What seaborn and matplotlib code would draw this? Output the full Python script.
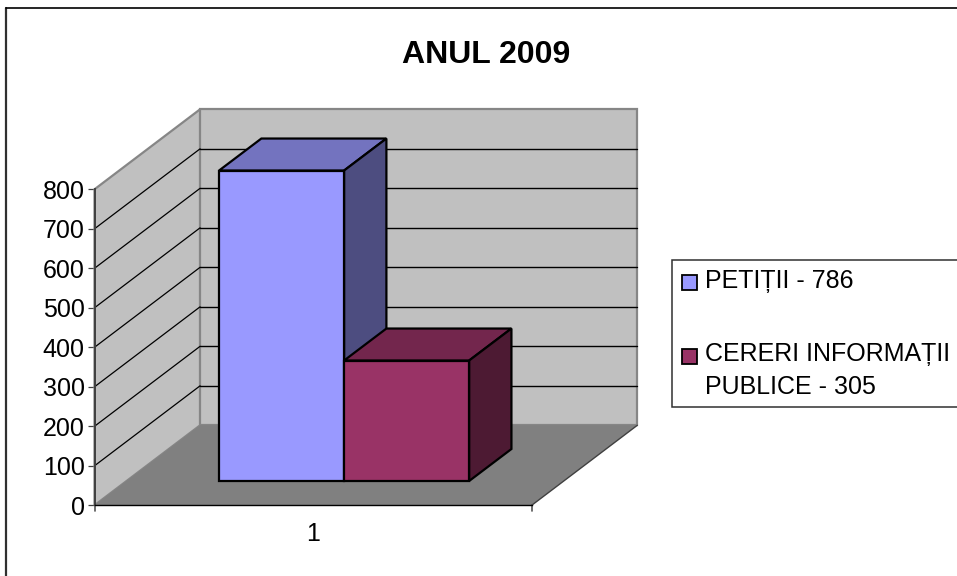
import matplotlib
matplotlib.use("Agg")
import matplotlib.pyplot as plt
from matplotlib.patches import Polygon, Rectangle
import pandas as pd
import seaborn as sns

categories = ["1"]
series_names = ["PETIȚII - 786", "CERERI INFORMAȚII\nPUBLICE - 305"]
series_values = [786, 305]
front_colors = ["#9999FF", "#993366"]
top_colors = ["#7373BF", "#73264D"]
side_colors = ["#4D4D80", "#4D1A33"]
y_ticks = list(range(0, 801, 100))
title_text = "ANUL 2009"

W, H = 957, 576
sns.set_theme(style="white")
plt.rcParams["font.family"] = ["Liberation Sans", "DejaVu Sans"]
fig = plt.figure(figsize=(W / 100, H / 100), dpi=100, facecolor="white")

# axes = front plane of the 3D box, in reference pixels
L, R, TOP, BOT = 94.5, 531.7, 189.3, 505.3
ax = fig.add_axes([L / W, 1 - BOT / H, (R - L) / W, (BOT - TOP) / H])
ax.patch.set_alpha(0)

df = pd.DataFrame({"cat": categories * 2, "series": series_names, "value": series_values})
sns.barplot(data=df, x="cat", y="value", hue="series", hue_order=series_names,
            palette=front_colors, width=0.572, dodge=True, saturation=1,
            legend=False, ax=ax, edgecolor="black", linewidth=1.6, zorder=5)
ax.set_xlim(-0.5, 0.5)
ax.set_ylim(0, 800)

px_x = R - L              # pixels per x unit
px_y = (BOT - TOP) / 800  # pixels per y unit
wall_dx, wall_dy = 105.6 / px_x, 80 / px_y
bar_dx, bar_dy = 42.3 / px_x, 32 / px_y
shift_x, shift_y = 31.0 / px_x, 24.3 / px_y
x0, x1 = -0.5, 0.5

# walls and floor
grey = "#868686"
ax.add_patch(Polygon([(x0, 0), (x0 + wall_dx, wall_dy), (x0 + wall_dx, 800 + wall_dy), (x0, 800)],
                     closed=True, fc="#C0C0C0", ec=grey, lw=1.6, clip_on=False, zorder=1))
ax.add_patch(Polygon([(x0 + wall_dx, wall_dy), (x1 + wall_dx, wall_dy),
                      (x1 + wall_dx, 800 + wall_dy), (x0 + wall_dx, 800 + wall_dy)],
                     closed=True, fc="#C0C0C0", ec=grey, lw=1.6, clip_on=False, zorder=1))
ax.add_patch(Polygon([(x0, 0), (x1, 0), (x1 + wall_dx, wall_dy), (x0 + wall_dx, wall_dy)],
                     closed=True, fc="#808080", ec="none", clip_on=False, zorder=2))
ax.plot([x1, x1 + wall_dx], [0, wall_dy], color="#404040", lw=1, clip_on=False, zorder=2)

# gridlines on side and back walls
for v in y_ticks[1:-1]:
    ax.plot([x0, x0 + wall_dx], [v, v + wall_dy], color="black", lw=0.9, clip_on=False, zorder=3)
    ax.plot([x0 + wall_dx, x1 + wall_dx], [v + wall_dy, v + wall_dy],
            color="black", lw=1.0, clip_on=False, zorder=3)

# 3D bars: move the seaborn bars onto the floor and add their top and side faces
for bar, top_c, side_c in zip(ax.patches[:2], top_colors, side_colors):
    bx, bw, bh = bar.get_x() + shift_x, bar.get_width(), bar.get_height()
    by = shift_y
    bar.set_x(bx)
    bar.set_y(by)
    bar.set_clip_on(False)
    bar.set_zorder(6)
    bar.set_joinstyle("miter")
    ax.add_patch(Polygon([(bx, by + bh), (bx + bw, by + bh), (bx + bw + bar_dx, by + bh + bar_dy),
                          (bx + bar_dx, by + bh + bar_dy)], closed=True, fc=top_c, ec="black",
                         lw=1.6, clip_on=False, zorder=4))
    ax.add_patch(Polygon([(bx + bw, by), (bx + bw + bar_dx, by + bar_dy),
                          (bx + bw + bar_dx, by + bh + bar_dy), (bx + bw, by + bh)], closed=True,
                         fc=side_c, ec="black", lw=1.6, clip_on=False, zorder=4))

# axes
ax.set_xlabel("")
ax.set_ylabel("")
ax.set_yticks(y_ticks)
ax.set_xticks([0])
ax.set_xticklabels(categories)
for s in ["top", "right"]:
    ax.spines[s].set_visible(False)
ax.spines["left"].set_color("#404040")
ax.spines["left"].set_linewidth(1.4)
ax.spines["bottom"].set_color("black")
ax.spines["bottom"].set_linewidth(1.0)
for s in ax.spines.values():
    s.set_zorder(7)
ax.tick_params(axis="y", length=5, width=0.9, color="#404040", left=True, pad=2, labelsize=18, labelcolor="black")
ax.tick_params(axis="x", length=0, pad=12, labelsize=18, labelcolor="black")
for xe in (x0, x1):
    ax.plot([xe, xe], [0, -6 / px_y], color="#555555", lw=1.2, clip_on=False, zorder=7)

# outer frame: left and top edges of the chart area
fig.add_artist(plt.Line2D([6 / W, 6 / W], [1 - 7.5 / H, 0], color="#303030", lw=1.6))
fig.add_artist(plt.Line2D([5.5 / W, 1], [1 - 7.5 / H, 1 - 7.5 / H], color="black", lw=1.2))

fig.text(486 / W, 1 - 55 / H, title_text, ha="center", va="center", fontsize=23, fontweight="bold", color="black")

# legend
fig.add_artist(Rectangle((671.7 / W, 1 - 407 / H), 290 / W, 147.3 / H, transform=fig.transFigure,
                         fc="white", ec="#303030", lw=1.1))
for hy, c in zip((282.5, 356.5), front_colors):
    fig.add_artist(Rectangle((682 / W, 1 - (hy + 7) / H), 14.5 / W, 14.5 / H, transform=fig.transFigure,
                             fc=c, ec="black", lw=1.3))
fig.text(705 / W, 1 - 281 / H, series_names[0], ha="left", va="center", fontsize=18, color="black")
lines = series_names[1].split("\n")
fig.text(705 / W, 1 - 354 / H, lines[0], ha="left", va="center", fontsize=18, color="black")
fig.text(705 / W, 1 - 387 / H, lines[1], ha="left", va="center", fontsize=18, color="black")

fig.savefig("out.png", dpi=100)
